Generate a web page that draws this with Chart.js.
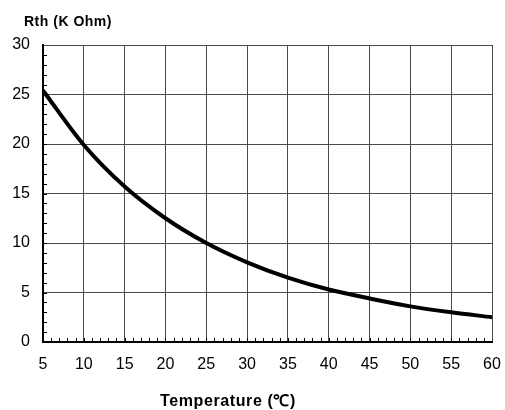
<!DOCTYPE html>
<html>
<head>
<meta charset="utf-8">
<script src="https://cdn.jsdelivr.net/npm/chart.js@4"></script>
<style>
  html, body { margin: 0; padding: 0; background: #fff; }
  #wrap { width: 505px; height: 410px; }
</style>
</head>
<body>
<div id="wrap"><canvas id="rthChart" width="505" height="410"></canvas></div>
<script>
// temperature in C, resistance in K Ohm
var temps = [5, 10, 15, 20, 25, 30, 35, 40, 45, 50, 55, 60];
var rth = [25.4, 19.9, 15.7, 12.5, 10.0, 8.05, 6.5, 5.3, 4.4, 3.6, 3.0, 2.5];
var yTitle = "Rth (K Ohm)";
var xTitle = "Temperature (℃)";

var font = '"Liberation Sans", Arial, sans-serif';

var points = [];
for (var i in temps) {
  points.push({ x: temps[i], y: rth[i] });
}

// small inward ticks every 1 unit plus the two axis titles
var extras = {
  id: 'extras',
  afterDatasetsDraw: function (chart) {
    var ctx = chart.ctx;
    var xs = chart.scales.x, ys = chart.scales.y;
    var area = chart.chartArea;
    ctx.save();
    ctx.strokeStyle = '#000';
    ctx.lineWidth = 1;
    ctx.beginPath();
    for (var v = xs.min + 1; v < xs.max; v++) {
      var px = Math.round(xs.getPixelForValue(v)) + 0.5;
      ctx.moveTo(px, area.bottom);
      ctx.lineTo(px, area.bottom - 4);
    }
    for (var w = ys.min + 1; w < ys.max; w++) {
      var py = Math.round(ys.getPixelForValue(w)) + 0.5;
      ctx.moveTo(area.left, py);
      ctx.lineTo(area.left + 4, py);
    }
    ctx.stroke();

    ctx.fillStyle = '#000';
    ctx.textBaseline = 'alphabetic';
    ctx.font = 'bold 14px ' + font;
    ctx.letterSpacing = '0.5px';
    ctx.textAlign = 'left';
    ctx.fillText(yTitle, 24, 26);
    ctx.font = 'bold 16px ' + font;
    ctx.letterSpacing = '0.6px';
    ctx.textAlign = 'center';
    ctx.fillText(xTitle, 228, 406);
    ctx.letterSpacing = '0px';
    ctx.restore();
  }
};

var ctx = document.getElementById('rthChart').getContext('2d');
var config = {
  type: 'line',
  data: {
    datasets: [{
      data: points,
      borderColor: '#000',
      borderWidth: 4,
      pointRadius: 0,
      fill: false,
      cubicInterpolationMode: 'monotone'
    }]
  },
  options: {
    responsive: false,
    animation: false,
    layout: { padding: { top: 45, right: 13, left: 0, bottom: 0 } },
    plugins: {
      legend: { display: false },
      tooltip: { enabled: false }
    },
    scales: {
      x: {
        type: 'linear',
        min: 5,
        max: 60,
        afterFit: function (scale) {
          scale.height = 68;
          scale.paddingLeft = 0;
          scale.paddingRight = 0;
        },
        ticks: {
          stepSize: 5,
          color: '#000',
          font: { family: font, size: 16 },
          padding: 13,
          maxRotation: 0
        },
        grid: { color: '#4a4a4a', lineWidth: 1, drawTicks: false },
        border: { color: '#000', width: 2 }
      },
      y: {
        min: 0,
        max: 30,
        afterFit: function (scale) { scale.width = 43; },
        ticks: {
          stepSize: 5,
          color: '#000',
          font: { family: font, size: 16 },
          padding: 13
        },
        grid: { color: '#4a4a4a', lineWidth: 1, drawTicks: false },
        border: { color: '#000', width: 2 }
      }
    }
  },
  plugins: [extras]
};
window.rthChart = new Chart(ctx, config);
</script>
</body>
</html>
